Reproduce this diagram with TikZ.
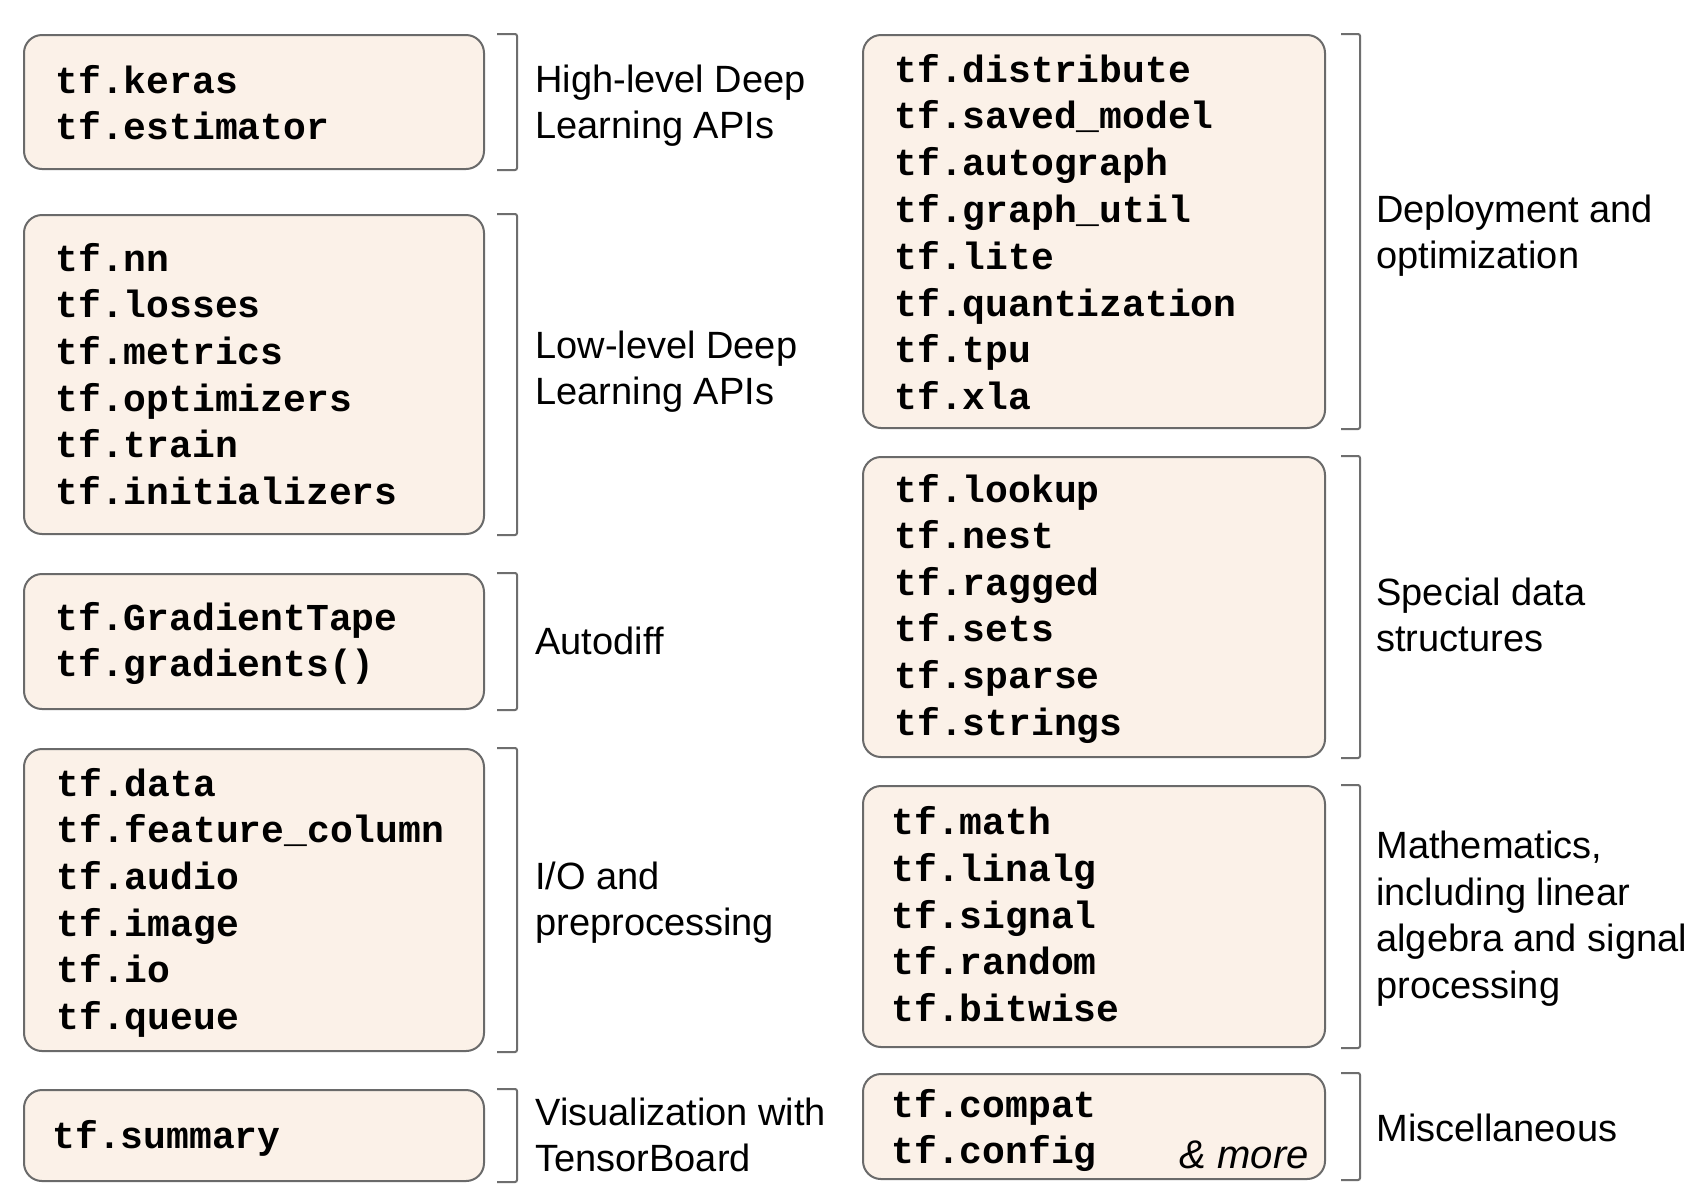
\documentclass[tikz,border=0pt]{standalone}
\usepackage{fontspec}
\setmainfont{Liberation Sans}
\setmonofont{Liberation Mono}
\usetikzlibrary{fit,calc}
\definecolor{boxfill}{HTML}{FBF1E8}
\definecolor{boxline}{HTML}{6A6A6A}
\definecolor{brkline}{HTML}{6E6E6E}
\tikzset{
  panel/.style={draw=boxline, fill=boxfill, line width=1pt, rounded corners=9pt, inner sep=0pt},
  code/.style={anchor=base west, inner sep=0pt, font=\fontsize{19}{23}\selectfont\ttfamily\bfseries},
  lbl/.style={anchor=base west, inner sep=0pt, font=\fontsize{19}{23}\selectfont},
  brk/.style={draw=brkline, line width=1pt, rounded corners=1pt},
}
\newcommand{\bracketfor}[3]{%
  \draw[brk] ([xshift=#2]#1.north east) -- ([xshift=#3]#1.north east)
     -- ([xshift=#3]#1.south east) -- ([xshift=#2]#1.south east);}
\begin{document}
\begin{tikzpicture}[x=0.5pt, y=-0.5pt]
\useasboundingbox[fill=white] (0,0) rectangle (1700,1200);

% boxes
\node[panel, fit={(24,35) (484,169)}] (b1) {};
\node[panel, fit={(24,215) (484,534)}] (b2) {};
\node[panel, fit={(24,574) (484,709)}] (b3) {};
\node[panel, fit={(24,749) (484,1051)}] (b4) {};
\node[panel, fit={(24,1090) (484,1181)}] (b5) {};
\node[panel, fit={(863,35) (1325,428)}] (r1) {};
\node[panel, fit={(863,457) (1325,757)}] (r2) {};
\node[panel, fit={(863,786) (1325,1047)}] (r3) {};
\node[panel, fit={(863,1074) (1325,1179)}] (r4) {};

% brackets
\foreach \b in {b1,b2,b3,b4,b5} {\bracketfor{\b}{6pt}{16pt}}
\foreach \b in {r1,r2,r3,r4} {\bracketfor{\b}{7.5pt}{17pt}}

% code lines
\foreach \t [count=\i] in {tf.keras, tf.estimator}
  \node[code] (b1t\i) at (55, {93+(\i-1)*46.7}) {\t};
\foreach \t [count=\i] in {tf.nn, tf.losses, tf.metrics, tf.optimizers, tf.train, tf.initializers}
  \node[code] (b2t\i) at (55, {271+(\i-1)*46.7}) {\t};
\foreach \t [count=\i] in {tf.GradientTape, tf.gradients()}
  \node[code] (b3t\i) at (55, {630+(\i-1)*46.7}) {\t};
\foreach \t [count=\i] in {tf.data, tf.feature\_column, tf.audio, tf.image, tf.io, tf.queue}
  \node[code] (b4t\i) at (56, {796+(\i-1)*46.7}) {\t};
\node[code] (b5t1) at (52, 1148) {tf.summary};

\foreach \t [count=\i] in {tf.distribute, tf.saved\_model, tf.autograph, tf.graph\_util, tf.lite, tf.quantization, tf.tpu, tf.xla}
  \node[code] (r1t\i) at (894, {82+(\i-1)*46.8}) {\t};
\foreach \t [count=\i] in {tf.lookup, tf.nest, tf.ragged, tf.sets, tf.sparse, tf.strings}
  \node[code] (r2t\i) at (894, {502+(\i-1)*46.6}) {\t};
\foreach \t [count=\i] in {tf.math, tf.linalg, tf.signal, tf.random, tf.bitwise}
  \node[code] (r3t\i) at (891, {834.5+(\i-1)*46.8}) {\t};
\foreach \t [count=\i] in {tf.compat, tf.config}
  \node[code] (r4t\i) at (891, {1117+(\i-1)*46.5}) {\t};
\node[anchor=base east, inner sep=0pt, font=\fontsize{20}{24}\selectfont\itshape] (more) at (1309,1168) {\& more};

% labels left
\node[lbl] (l1a) at (535, 92) {High-level Deep};
\node[lbl] (l1b) at (535, 138.5) {Learning APIs};
\node[lbl] (l2a) at (535, 358) {Low-level Deep};
\node[lbl] (l2b) at (535, 404) {Learning APIs};
\node[lbl] (l3a) at (535, 654) {Autodiff};
\node[lbl] (l4a) at (535, 889) {I/O and};
\node[lbl] (l4b) at (535, 935) {preprocessing};
\node[lbl] (l5a) at (535, 1125) {Visualization with};
\node[lbl] (l5b) at (535, 1171) {TensorBoard};
% labels right
\node[lbl] (m1a) at (1376, 222) {Deployment and};
\node[lbl] (m1b) at (1376, 268) {optimization};
\node[lbl] (m2a) at (1376, 605) {Special data};
\node[lbl] (m2b) at (1376, 651) {structures};
\node[lbl] (m3a) at (1376, 858) {Mathematics,};
\node[lbl] (m3b) at (1376, 905) {including linear};
\node[lbl] (m3c) at (1376, 951.5) {algebra and signal};
\node[lbl] (m3d) at (1376, 998) {processing};
\node[lbl] (m4a) at (1376, 1141) {Miscellaneous};
\end{tikzpicture}
\end{document}
